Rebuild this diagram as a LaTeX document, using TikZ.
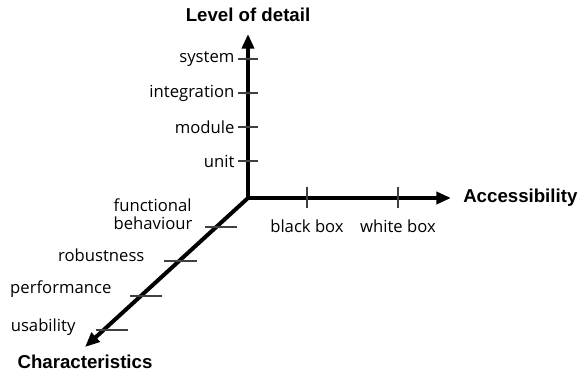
\documentclass[tikz,border=0pt]{standalone}
\usepackage{fontspec}
\setmainfont{Open Sans}
\newfontfamily\titlefont{Liberation Sans}
\usetikzlibrary{arrows.meta}

\begin{document}
\begin{tikzpicture}[x=0.75pt, y=-0.75pt,
    axis/.style={line width=3pt, -{Triangle[length=11pt, width=9pt]}},
    tick/.style={line width=0.8pt, black!75},
    lbl/.style={font=\fontsize{12.5}{13.5}\selectfont, inner sep=1pt},
    ttl/.style={font=\titlefont\bfseries\fontsize{14}{16}\selectfont, inner sep=0pt}]
    \useasboundingbox (0,0) rectangle (579,373);
    % axes
    \coordinate (O) at (248,198);
    \coordinate (up) at (248,34);
    \coordinate (right) at (451,198);
    \coordinate (down) at (85,347);
    \draw[axis] (O) -- (up);
    \draw[axis] (O) -- (right);
    \draw[axis, shorten <=-1pt] (O) -- (down);
    \node[ttl] (detail) at (248,15) {Level of detail};
    \node[ttl, anchor=west] (access) at (463,198) {Accessibility};
    \node[ttl] (charac) at (85,362) {Characteristics};
    % level of detail
    \foreach \y/\t [count=\i] in {59/system, 93/integration, 127/module, 161/unit} {
        \draw[tick] (238,\y) -- (258,\y);
        \node[lbl, anchor=east] (lev\i) at (236,\y) {\t};
    }
    % accessibility
    \foreach \x/\t [count=\i] in {307/black box, 398/white box} {
        \draw[tick] (\x,187) -- (\x,208);
        \node[lbl] (acc\i) at (\x,226) {\t};
    }
    % characteristics
    \draw[tick] (205,227) -- (237,227);
    \draw[tick] (164,261) -- (197,261);
    \draw[tick] (130,296) -- (162,296);
    \draw[tick] (96,330) -- (128,330);
    \node[lbl, anchor=east, align=left] (char1) at (194,214) {functional\\behaviour};
    \node[lbl, anchor=east] (char2) at (146,255) {robustness};
    \node[lbl, anchor=east] (char3) at (113,289) {performance};
    \node[lbl, anchor=east] (char4) at (77,327) {usability};
\end{tikzpicture}
\end{document}
